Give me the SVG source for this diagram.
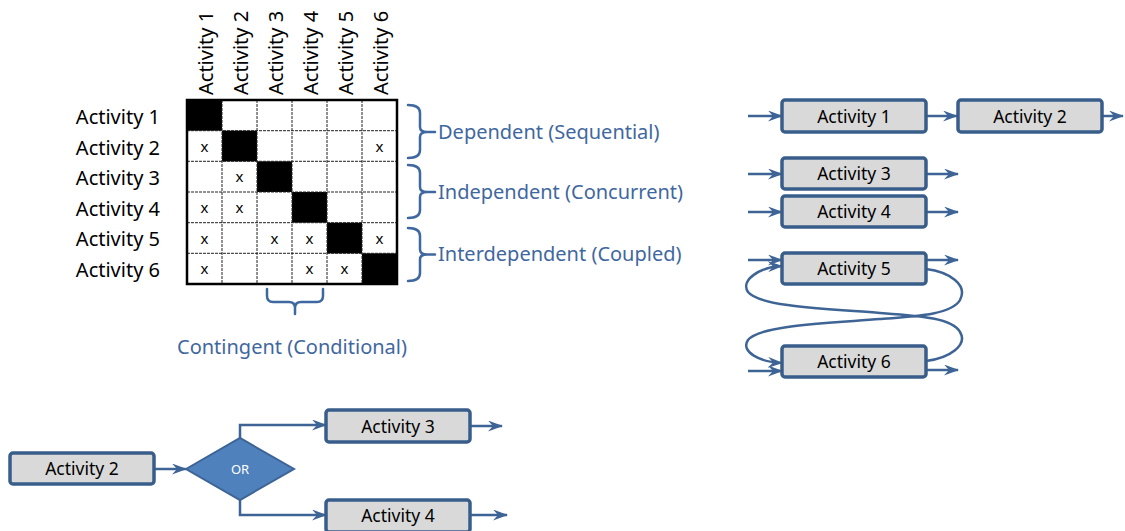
<svg xmlns="http://www.w3.org/2000/svg" width="1125" height="531" viewBox="0 0 1125 531">
<style>
.lbl{font-family:"Noto Sans","Liberation Sans",sans-serif;font-size:20px;fill:#000}
.blue{font-family:"Noto Sans","Liberation Sans",sans-serif;font-size:20px;fill:#3F67A0}
.xm{font-family:"Noto Sans","Liberation Sans",sans-serif;font-size:15px;fill:#000;text-anchor:middle}
.grid{stroke:#222;stroke-width:1;stroke-dasharray:3 1;fill:none}
.blk{fill:#000}
.brace{fill:none;stroke:#3F67A0;stroke-width:2.5;stroke-linejoin:round;stroke-linecap:round}
.box{fill:#D9D9D9;stroke:#385D8A;stroke-width:3.5}
.bt{font-family:"Noto Sans","Liberation Sans",sans-serif;font-size:17.5px;fill:#000;text-anchor:middle}
.con{fill:none;stroke:#3E6496;stroke-width:2.5}
</style>
<defs>
<marker id="ah" viewBox="0 0 15 11" refX="14" refY="5.5" markerWidth="15" markerHeight="11" markerUnits="userSpaceOnUse" orient="auto">
<path d="M0,0 L15,5.5 L0,11 L5,5.5 z" fill="#3E6496"/>
</marker>
</defs>

<g id="matrix">
<rect x="187" y="100" width="210" height="184" fill="#fff"/>
<rect class="blk" x="187" y="100" width="35" height="30.7"/>
<rect class="blk" x="222" y="130.7" width="35" height="30.7"/>
<rect class="blk" x="257" y="161.3" width="35" height="30.7"/>
<rect class="blk" x="292" y="192" width="35" height="30.7"/>
<rect class="blk" x="327" y="222.7" width="35" height="30.7"/>
<rect class="blk" x="362" y="253.3" width="35" height="30.7"/>
<path class="grid" d="M222,100V284M257,100V284M292,100V284M327,100V284M362,100V284M187,130.7H397M187,161.3H397M187,192H397M187,222.7H397M187,253.3H397"/>
<rect x="187" y="100" width="210" height="184" fill="none" stroke="#000" stroke-width="2.5"/>
<text class="xm" x="204.5" y="151.5">x</text>
<text class="xm" x="379.5" y="151.5">x</text>
<text class="xm" x="239.5" y="182.2">x</text>
<text class="xm" x="204.5" y="212.8">x</text>
<text class="xm" x="239.5" y="212.8">x</text>
<text class="xm" x="204.5" y="243.5">x</text>
<text class="xm" x="274.5" y="243.5">x</text>
<text class="xm" x="309.5" y="243.5">x</text>
<text class="xm" x="379.5" y="243.5">x</text>
<text class="xm" x="204.5" y="274.2">x</text>
<text class="xm" x="309.5" y="274.2">x</text>
<text class="xm" x="344.5" y="274.2">x</text>
</g>

<g id="row-labels" class="lbl" text-anchor="end">
<text x="160" y="124">Activity 1</text>
<text x="160" y="154.5">Activity 2</text>
<text x="160" y="185">Activity 3</text>
<text x="160" y="215.5">Activity 4</text>
<text x="160" y="246">Activity 5</text>
<text x="160" y="276.5">Activity 6</text>
</g>

<g id="col-labels" class="lbl">
<text transform="translate(212.5,95) rotate(-90)">Activity 1</text>
<text transform="translate(247.5,95) rotate(-90)">Activity 2</text>
<text transform="translate(282.5,95) rotate(-90)">Activity 3</text>
<text transform="translate(317.5,95) rotate(-90)">Activity 4</text>
<text transform="translate(352.5,95) rotate(-90)">Activity 5</text>
<text transform="translate(387.5,95) rotate(-90)">Activity 6</text>
</g>

<g id="brace-dependent">
<path class="brace" d="M408,105 Q420,105 420,113 L420,127 Q420,132 427,132 L435,132 M427,132 Q420,132 420,137 L420,150 Q420,158 408,158"/>
<text class="blue" x="438" y="138.5">Dependent (Sequential)</text>
</g>
<g id="brace-independent">
<path class="brace" d="M408,165 Q420,165 420,173 L420,187 Q420,192 427,192 L435,192 M427,192 Q420,192 420,197 L420,210 Q420,218 408,218"/>
<text class="blue" x="438" y="198.5">Independent (Concurrent)</text>
</g>
<g id="brace-interdependent">
<path class="brace" d="M408,228 Q420,228 420,236 L420,249.5 Q420,254.5 427,254.5 L435,254.5 M427,254.5 Q420,254.5 420,259.5 L420,273 Q420,281 408,281"/>
<text class="blue" x="438" y="261">Interdependent (Coupled)</text>
</g>
<g id="brace-contingent">
<path class="brace" d="M267,289 L267,296 Q267,302 273,302 L289,302 Q295,302 295,308 L295,314 M295,308 Q295,302 301,302 L317,302 Q323,302 323,296 L323,289"/>
<text class="blue" x="292" y="354" text-anchor="middle">Contingent (Conditional)</text>
</g>

<g id="connectors">
<path class="con" marker-end="url(#ah)" d="M748,116 H782"/>
<path class="con" marker-end="url(#ah)" d="M926,116 H957"/>
<path class="con" marker-end="url(#ah)" d="M1102,116 H1123"/>
<path class="con" marker-end="url(#ah)" d="M748,174 H782"/>
<path class="con" marker-end="url(#ah)" d="M926,174 H958"/>
<path class="con" marker-end="url(#ah)" d="M748,212 H782"/>
<path class="con" marker-end="url(#ah)" d="M926,212 H958"/>
<path class="con" marker-end="url(#ah)" d="M748,260 H782"/>
<path class="con" marker-end="url(#ah)" d="M926,260 H958"/>
<path class="con" marker-end="url(#ah)" d="M748,371 H782"/>
<path class="con" marker-end="url(#ah)" d="M926,370 H958"/>
<path class="con" marker-end="url(#ah)" d="M926,269 C950,272 968,285 960,300 C952,314 920,316 880,319 C830,323 760,325 748,340 C740,352 760,362 782,363"/>
<path class="con" marker-end="url(#ah)" d="M926,361 C950,358 968,345 960,332 C952,318 920,316 880,313 C830,309 760,307 748,292 C740,280 760,267 782,266"/>
<path class="con" marker-end="url(#ah)" d="M154,469 H186"/>
<path class="con" marker-end="url(#ah)" d="M240,438 V425 H326"/>
<path class="con" marker-end="url(#ah)" d="M240,500 V515 H326"/>
<path class="con" marker-end="url(#ah)" d="M470,426 H502"/>
<path class="con" marker-end="url(#ah)" d="M470,515 H507"/>
</g>

<g id="r-activity1"><rect class="box" x="782" y="100" width="144" height="32" rx="3"/><text class="bt" x="854" y="122.5">Activity 1</text></g>
<g id="r-activity2"><rect class="box" x="958" y="100" width="144" height="32" rx="3"/><text class="bt" x="1030" y="122.5">Activity 2</text></g>
<g id="r-activity3"><rect class="box" x="782" y="158" width="144" height="31" rx="3"/><text class="bt" x="854" y="180">Activity 3</text></g>
<g id="r-activity4"><rect class="box" x="782" y="196" width="144" height="31" rx="3"/><text class="bt" x="854" y="218">Activity 4</text></g>
<g id="r-activity5"><rect class="box" x="782" y="253" width="144" height="31" rx="3"/><text class="bt" x="854" y="275">Activity 5</text></g>
<g id="r-activity6"><rect class="box" x="782" y="346" width="144" height="31" rx="3"/><text class="bt" x="854" y="368">Activity 6</text></g>

<g id="b-activity2"><rect class="box" x="10" y="453" width="144" height="31" rx="3"/><text class="bt" x="82" y="475">Activity 2</text></g>
<g id="b-or"><polygon points="186,469 240,438 294,469 240,500" fill="#4F81BD" stroke="#3E6496" stroke-width="2"/><text x="240" y="474" text-anchor="middle" font-family="'Noto Sans','Liberation Sans',sans-serif" font-size="13" fill="#fff">OR</text></g>
<g id="b-activity3"><rect class="box" x="326" y="410" width="144" height="32" rx="3"/><text class="bt" x="398" y="432.5">Activity 3</text></g>
<g id="b-activity4"><rect class="box" x="326" y="500" width="144" height="32" rx="3"/><text class="bt" x="398" y="521.5">Activity 4</text></g>
</svg>
